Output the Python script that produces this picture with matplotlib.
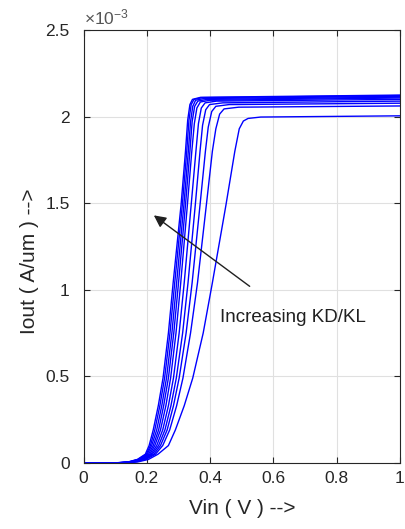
import matplotlib
matplotlib.use("Agg")
import matplotlib.pyplot as plt

# ---- data (Iout in units of 1e-3 A/um) ----
iout_c0 = [0, 0, 0.005, 0.02, 0.05, 0.10, 0.19, 0.33, 0.49, 0.75, 1.04, 1.49, 1.80, 1.98, 2.07, 2.10, 2.112, 2.125]
vin_c0 = [0, 0.100, 0.140, 0.170, 0.195, 0.207, 0.220, 0.236, 0.251, 0.268, 0.283, 0.308, 0.322, 0.329, 0.336, 0.344, 0.370, 1.0]
iout_c1 = [0, 0, 0.005, 0.02, 0.05, 0.10, 0.19, 0.33, 0.49, 0.75, 1.04, 1.49, 1.80, 1.98, 2.07, 2.10, 2.110, 2.122]
vin_c1 = [0, 0.100, 0.142, 0.172, 0.198, 0.211, 0.225, 0.241, 0.256, 0.273, 0.288, 0.312, 0.326, 0.333, 0.340, 0.349, 0.375, 1.0]
iout_c2 = [0, 0, 0.005, 0.02, 0.05, 0.10, 0.19, 0.33, 0.49, 0.75, 1.04, 1.49, 1.80, 1.97, 2.06, 2.095, 2.105, 2.118]
vin_c2 = [0, 0.105, 0.144, 0.175, 0.201, 0.215, 0.231, 0.247, 0.262, 0.279, 0.294, 0.317, 0.331, 0.338, 0.345, 0.354, 0.380, 1.0]
iout_c3 = [0, 0, 0.005, 0.02, 0.05, 0.10, 0.19, 0.33, 0.49, 0.75, 1.04, 1.49, 1.80, 1.97, 2.06, 2.09, 2.100, 2.113]
vin_c3 = [0, 0.105, 0.146, 0.178, 0.205, 0.220, 0.237, 0.253, 0.268, 0.285, 0.300, 0.322, 0.336, 0.343, 0.351, 0.361, 0.390, 1.0]
iout_c4 = [0, 0, 0.005, 0.02, 0.05, 0.10, 0.19, 0.33, 0.49, 0.75, 1.04, 1.49, 1.80, 1.96, 2.05, 2.085, 2.095, 2.108]
vin_c4 = [0, 0.110, 0.148, 0.181, 0.209, 0.225, 0.243, 0.260, 0.275, 0.292, 0.307, 0.328, 0.342, 0.350, 0.358, 0.369, 0.400, 1.0]
iout_c5 = [0, 0, 0.005, 0.02, 0.05, 0.10, 0.19, 0.33, 0.49, 0.75, 1.04, 1.49, 1.80, 1.96, 2.05, 2.08, 2.090, 2.100]
vin_c5 = [0, 0.110, 0.151, 0.185, 0.213, 0.231, 0.250, 0.268, 0.284, 0.302, 0.318, 0.340, 0.355, 0.363, 0.372, 0.384, 0.420, 1.0]
iout_c6 = [0, 0, 0.005, 0.02, 0.05, 0.10, 0.19, 0.33, 0.49, 0.75, 1.04, 1.49, 1.80, 1.95, 2.04, 2.07, 2.080, 2.090]
vin_c6 = [0, 0.115, 0.154, 0.189, 0.217, 0.237, 0.257, 0.276, 0.293, 0.313, 0.330, 0.353, 0.368, 0.376, 0.386, 0.398, 0.440, 1.0]
iout_c7 = [0, 0, 0.005, 0.02, 0.05, 0.10, 0.19, 0.33, 0.49, 0.75, 1.04, 1.49, 1.80, 1.94, 2.03, 2.06, 2.070, 2.078]
vin_c7 = [0, 0.115, 0.157, 0.193, 0.222, 0.243, 0.264, 0.284, 0.302, 0.324, 0.343, 0.368, 0.385, 0.394, 0.405, 0.418, 0.460, 1.0]
iout_c8 = [0, 0, 0.005, 0.02, 0.05, 0.10, 0.19, 0.33, 0.49, 0.75, 1.04, 1.49, 1.80, 1.93, 2.015, 2.045, 2.055, 2.062]
vin_c8 = [0, 0.120, 0.161, 0.197, 0.227, 0.250, 0.272, 0.294, 0.314, 0.338, 0.360, 0.388, 0.407, 0.418, 0.430, 0.444, 0.490, 1.0]
iout_c9 = [0, 0, 0.005, 0.02, 0.05, 0.10, 0.19, 0.33, 0.49, 0.75, 1.04, 1.49, 1.80, 1.93, 1.975, 1.99, 1.998, 2.005]
vin_c9 = [0, 0.125, 0.170, 0.205, 0.235, 0.268, 0.290, 0.318, 0.345, 0.378, 0.407, 0.450, 0.478, 0.492, 0.505, 0.520, 0.560, 1.0]

curves_vin = [vin_c0, vin_c1, vin_c2, vin_c3, vin_c4, vin_c5, vin_c6, vin_c7, vin_c8, vin_c9]
curves_iout = [iout_c0, iout_c1, iout_c2, iout_c3, iout_c4, iout_c5, iout_c6, iout_c7, iout_c8, iout_c9]

x_ticks = [0, 0.2, 0.4, 0.6, 0.8, 1.0]
x_tick_labels = ["0", "0.2", "0.4", "0.6", "0.8", "1"]
y_ticks = [0, 0.5, 1.0, 1.5, 2.0, 2.5]
y_tick_labels = ["0", "0.5", "1", "1.5", "2", "2.5"]

annot_text = "Increasing KD/KL"
annot_tip = (0.222, 1.43)
annot_tail = (0.525, 1.02)
annot_text_pos = (0.431, 0.84)

# ---- style ----
plt.rcParams["font.family"] = ["Liberation Sans", "DejaVu Sans"]
plt.rcParams["mathtext.fontset"] = "custom"
plt.rcParams["mathtext.rm"] = "Liberation Sans"
dark = "#262626"

fig = plt.figure(figsize=(4.06, 5.29), dpi=100)
ax = fig.add_axes([0.206, 0.125, 0.779, 0.818])

for vx, iy in zip(curves_vin, curves_iout):
    ax.plot(vx, iy, color=(0, 0, 1), lw=1.0)

ax.set_xlim(0, 1)
ax.set_ylim(0, 2.5)
ax.set_xticks(x_ticks)
ax.set_xticklabels(x_tick_labels)
ax.set_yticks(y_ticks)
ax.set_yticklabels(y_tick_labels)
ax.grid(True, color="#e0e0e0", lw=0.8)
ax.set_axisbelow(True)
ax.tick_params(direction="in", top=True, right=True, length=4, width=0.8,
               color=dark, labelcolor=dark, labelsize=12.5)
ax.tick_params(axis="y", pad=10)
ax.tick_params(axis="x", pad=6)
for s in ax.spines.values():
    s.set_color(dark)
    s.set_linewidth(0.8)

ax.set_xlabel("Vin ( V ) -->", fontsize=15, color=dark, labelpad=9)
ax.set_ylabel("Iout ( A/um ) -->", fontsize=15, color=dark)
ax.yaxis.set_label_coords(-0.14, 0.465)

ax.text(0.0, 1.006, r"$\times\mathregular{10^{-3}}$", transform=ax.transAxes,
        fontsize=12.5, color="#555555", ha="left", va="bottom")

ax.annotate("", xy=annot_tip, xytext=annot_tail,
            arrowprops=dict(arrowstyle="-|>", color="#202020", lw=1.0,
                            mutation_scale=18, shrinkA=0, shrinkB=0))
ax.text(annot_text_pos[0], annot_text_pos[1], annot_text, fontsize=13.5,
        color="#202020", ha="left", va="center")

fig.savefig("out.png", dpi=100)
